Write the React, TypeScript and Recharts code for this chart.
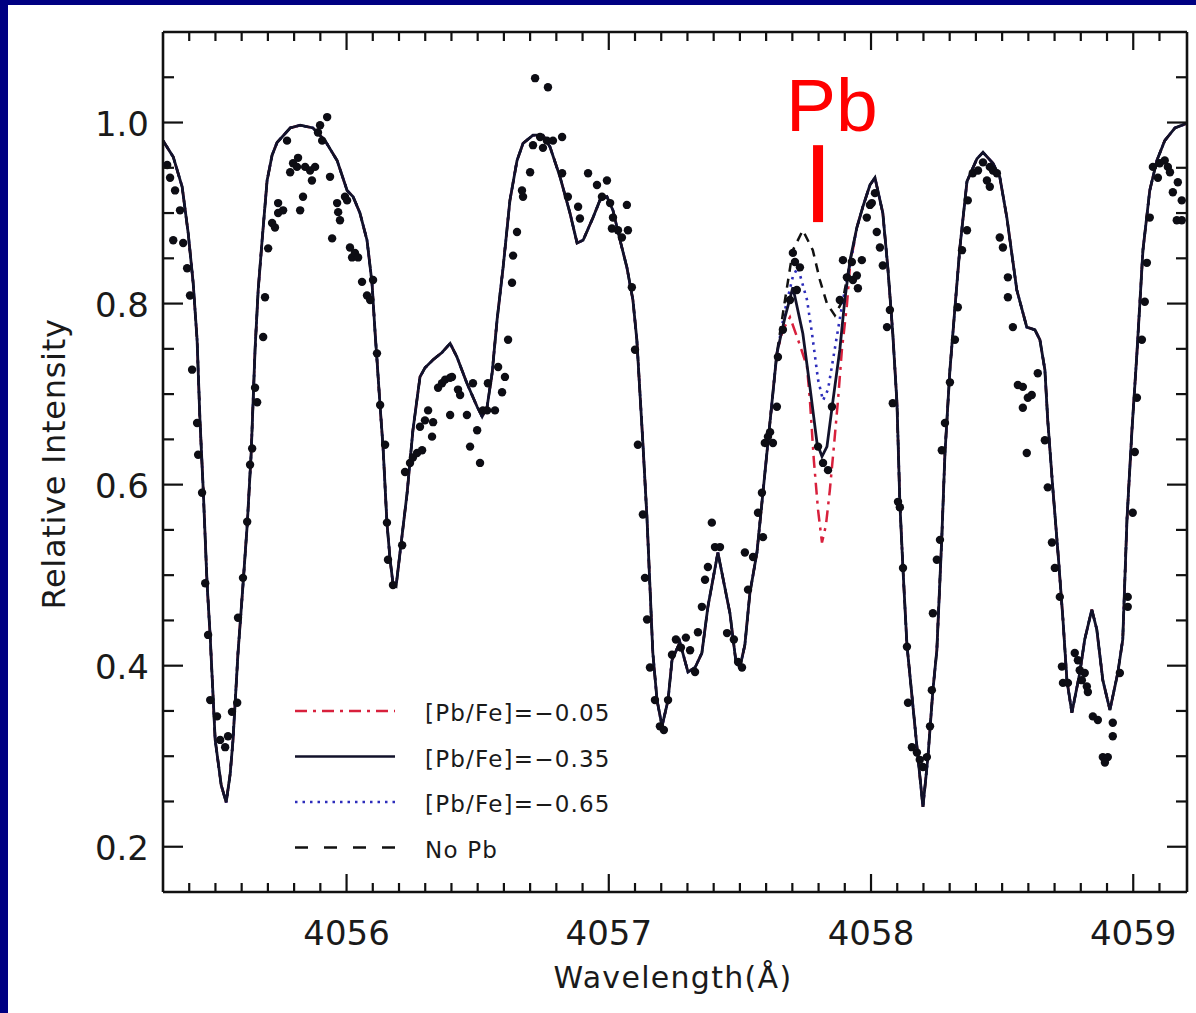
import React from 'react';
import { ComposedChart, Line, Scatter, XAxis, YAxis, ReferenceLine, ReferenceDot } from 'recharts';

type Pt = [number, number];

const X_DOMAIN: [number, number] = [4055.3, 4059.205];
const Y_DOMAIN: [number, number] = [0.15, 1.1];
const X_MAJOR = [4056, 4057, 4058, 4059];
const X_TICKS = [
  4055.4, 4055.5, 4055.6, 4055.7, 4055.8, 4055.9, 4056, 4056.1, 4056.2, 4056.3, 4056.4, 4056.5, 4056.6,
  4056.7, 4056.8, 4056.9, 4057, 4057.1, 4057.2, 4057.3, 4057.4, 4057.5, 4057.6, 4057.7, 4057.8, 4057.9,
  4058, 4058.1, 4058.2, 4058.3, 4058.4, 4058.5, 4058.6, 4058.7, 4058.8, 4058.9, 4059, 4059.1,
];
const Y_MAJOR = [0.2, 0.4, 0.6, 0.8, 1.0];
const Y_TICKS = [0.2, 0.25, 0.3, 0.35, 0.4, 0.45, 0.5, 0.55, 0.6, 0.65, 0.7, 0.75, 0.8, 0.85, 0.9, 0.95, 1.0, 1.05];

// Synthetic spectrum, [Pb/Fe] = -0.35 (solid line), full range
const fitMinus035: Pt[] = [
  [4055.300, 0.980], [4055.339, 0.962], [4055.373, 0.929], [4055.396, 0.878], [4055.415, 0.823], [4055.430, 0.760],
  [4055.441, 0.671], [4055.453, 0.597], [4055.468, 0.491], [4055.480, 0.432], [4055.499, 0.318], [4055.522, 0.268],
  [4055.541, 0.249], [4055.556, 0.280], [4055.567, 0.318], [4055.586, 0.414], [4055.605, 0.489], [4055.621, 0.555],
  [4055.636, 0.633], [4055.651, 0.749], [4055.663, 0.815], [4055.678, 0.870], [4055.697, 0.936], [4055.716, 0.964],
  [4055.735, 0.978], [4055.785, 0.994], [4055.823, 0.997], [4055.872, 0.994], [4055.918, 0.980], [4055.964, 0.958],
  [4056.002, 0.925], [4056.025, 0.918], [4056.051, 0.900], [4056.078, 0.870], [4056.097, 0.823], [4056.109, 0.767],
  [4056.116, 0.738], [4056.128, 0.686], [4056.139, 0.642], [4056.154, 0.558], [4056.166, 0.517], [4056.177, 0.491],
  [4056.189, 0.488], [4056.204, 0.525], [4056.231, 0.591], [4056.253, 0.660], [4056.280, 0.719], [4056.299, 0.729],
  [4056.330, 0.738], [4056.364, 0.746], [4056.395, 0.756], [4056.421, 0.741], [4056.459, 0.712], [4056.498, 0.686],
  [4056.517, 0.675], [4056.536, 0.686], [4056.555, 0.723], [4056.574, 0.782], [4056.597, 0.840], [4056.623, 0.914],
  [4056.650, 0.958], [4056.673, 0.977], [4056.711, 0.986], [4056.749, 0.986], [4056.776, 0.973], [4056.814, 0.940],
  [4056.852, 0.900], [4056.879, 0.867], [4056.902, 0.870], [4056.940, 0.895], [4056.966, 0.914], [4056.993, 0.918],
  [4057.016, 0.903], [4057.043, 0.870], [4057.069, 0.840], [4057.092, 0.804], [4057.107, 0.760], [4057.130, 0.646],
  [4057.146, 0.561], [4057.157, 0.487], [4057.168, 0.414], [4057.184, 0.362], [4057.203, 0.333], [4057.226, 0.362],
  [4057.241, 0.406], [4057.271, 0.426], [4057.302, 0.393], [4057.329, 0.398], [4057.355, 0.414], [4057.378, 0.465],
  [4057.416, 0.525], [4057.462, 0.458], [4057.485, 0.404], [4057.500, 0.398], [4057.519, 0.423], [4057.538, 0.480],
  [4057.565, 0.525], [4057.584, 0.580], [4057.603, 0.635], [4057.622, 0.690], [4057.641, 0.745], [4057.672, 0.785],
  [4057.702, 0.818], [4057.740, 0.767], [4057.767, 0.708], [4057.794, 0.646], [4057.813, 0.631], [4057.832, 0.642],
  [4057.855, 0.693], [4057.881, 0.749], [4057.900, 0.804], [4057.920, 0.848], [4057.946, 0.884], [4057.969, 0.907],
  [4057.996, 0.931], [4058.015, 0.939], [4058.045, 0.900], [4058.064, 0.840], [4058.083, 0.767], [4058.099, 0.690],
  [4058.110, 0.580], [4058.122, 0.506], [4058.137, 0.423], [4058.160, 0.355], [4058.179, 0.299], [4058.198, 0.244],
  [4058.217, 0.299], [4058.236, 0.373], [4058.251, 0.417], [4058.270, 0.542], [4058.282, 0.635], [4058.301, 0.727],
  [4058.320, 0.795], [4058.339, 0.862], [4058.366, 0.935], [4058.404, 0.960], [4058.427, 0.967], [4058.465, 0.955],
  [4058.491, 0.940], [4058.518, 0.895], [4058.556, 0.815], [4058.594, 0.774], [4058.625, 0.771], [4058.644, 0.760],
  [4058.663, 0.727], [4058.674, 0.671], [4058.693, 0.597], [4058.713, 0.525], [4058.732, 0.451], [4058.747, 0.384],
  [4058.766, 0.348], [4058.796, 0.392], [4058.815, 0.429], [4058.842, 0.462], [4058.861, 0.440], [4058.884, 0.384],
  [4058.911, 0.351], [4058.941, 0.392], [4058.960, 0.429], [4058.976, 0.561], [4058.995, 0.660], [4059.014, 0.745],
  [4059.037, 0.859], [4059.063, 0.925], [4059.090, 0.958], [4059.120, 0.980], [4059.159, 0.994], [4059.204, 0.999],
];

// Around the Pb I 4057.8 line the other syntheses differ from the solid one
const PB_RANGE: [number, number] = [4057.641, 4057.946];
const fitMinus005Pb: Pt[] = [
  [4057.664, 0.771], [4057.691, 0.785], [4057.729, 0.754], [4057.756, 0.730], [4057.767, 0.693], [4057.782, 0.627],
  [4057.798, 0.572], [4057.813, 0.536], [4057.828, 0.555], [4057.843, 0.594], [4057.859, 0.644], [4057.874, 0.693],
  [4057.889, 0.749], [4057.908, 0.798], [4057.920, 0.842],
];
const fitMinus065Pb: Pt[] = [
  [4057.672, 0.793], [4057.702, 0.830], [4057.721, 0.840], [4057.756, 0.804], [4057.775, 0.767], [4057.798, 0.716],
  [4057.817, 0.693], [4057.836, 0.705], [4057.855, 0.738], [4057.874, 0.771], [4057.893, 0.804], [4057.912, 0.831],
  [4057.927, 0.853],
];
const fitNoPbPb: Pt[] = [
  [4057.672, 0.804], [4057.702, 0.859], [4057.740, 0.881], [4057.778, 0.859], [4057.805, 0.826], [4057.832, 0.800],
  [4057.862, 0.787], [4057.893, 0.804], [4057.920, 0.846],
];

// Observed spectrum (dots)
const observed: Pt[] = [
  [4055.316, 0.953], [4055.327, 0.939], [4055.346, 0.925], [4055.365, 0.903], [4055.339, 0.870], [4055.377, 0.867],
  [4055.392, 0.839], [4055.403, 0.809], [4055.411, 0.727], [4055.430, 0.668], [4055.434, 0.633], [4055.449, 0.591],
  [4055.461, 0.491], [4055.472, 0.434], [4055.480, 0.362], [4055.506, 0.344], [4055.518, 0.318], [4055.537, 0.310],
  [4055.548, 0.322], [4055.563, 0.349], [4055.583, 0.359], [4055.586, 0.453], [4055.605, 0.497], [4055.621, 0.559],
  [4055.632, 0.622], [4055.640, 0.640], [4055.651, 0.707], [4055.659, 0.691], [4055.682, 0.763], [4055.689, 0.807],
  [4055.701, 0.861], [4055.716, 0.889], [4055.727, 0.884], [4055.739, 0.900], [4055.739, 0.911], [4055.758, 0.903],
  [4055.773, 0.980], [4055.785, 0.945], [4055.796, 0.955], [4055.815, 0.961], [4055.811, 0.951], [4055.823, 0.903],
  [4055.834, 0.918], [4055.842, 0.951], [4055.861, 0.947], [4055.868, 0.936], [4055.880, 0.951], [4055.891, 0.989],
  [4055.899, 0.997], [4055.926, 1.006], [4055.907, 0.980], [4055.937, 0.940], [4055.945, 0.872], [4055.964, 0.911],
  [4055.968, 0.901], [4055.975, 0.892], [4055.994, 0.918], [4056.002, 0.914], [4056.013, 0.862], [4056.021, 0.851],
  [4056.032, 0.856], [4056.044, 0.851], [4056.059, 0.824], [4056.078, 0.809], [4056.090, 0.804], [4056.101, 0.826],
  [4056.116, 0.745], [4056.128, 0.688], [4056.147, 0.644], [4056.154, 0.558], [4056.158, 0.517], [4056.177, 0.489],
  [4056.212, 0.533], [4056.223, 0.614], [4056.242, 0.624], [4056.253, 0.630], [4056.269, 0.635], [4056.288, 0.638],
  [4056.280, 0.664], [4056.299, 0.671], [4056.326, 0.653], [4056.311, 0.682], [4056.330, 0.669], [4056.349, 0.707],
  [4056.364, 0.712], [4056.376, 0.716], [4056.395, 0.718], [4056.402, 0.719], [4056.395, 0.677], [4056.425, 0.705],
  [4056.433, 0.699], [4056.459, 0.677], [4056.471, 0.642], [4056.482, 0.712], [4056.498, 0.660], [4056.509, 0.624],
  [4056.520, 0.682], [4056.536, 0.682], [4056.539, 0.712], [4056.566, 0.682], [4056.578, 0.730], [4056.593, 0.702],
  [4056.604, 0.719], [4056.616, 0.760], [4056.631, 0.823], [4056.635, 0.853], [4056.650, 0.879], [4056.673, 0.918],
  [4056.669, 0.925], [4056.700, 0.945], [4056.711, 0.975], [4056.719, 1.049], [4056.768, 1.039], [4056.738, 0.984],
  [4056.764, 0.980], [4056.787, 0.980], [4056.822, 0.984], [4056.749, 0.972], [4056.822, 0.944], [4056.844, 0.918],
  [4056.883, 0.907], [4056.890, 0.894], [4056.921, 0.944], [4056.955, 0.931], [4056.993, 0.936], [4056.974, 0.918],
  [4057.005, 0.911], [4057.016, 0.895], [4057.012, 0.883], [4057.035, 0.881], [4057.050, 0.873], [4057.069, 0.909],
  [4057.073, 0.881], [4057.088, 0.818], [4057.100, 0.749], [4057.111, 0.644], [4057.130, 0.567], [4057.138, 0.497],
  [4057.146, 0.451], [4057.157, 0.398], [4057.176, 0.362], [4057.195, 0.333], [4057.210, 0.329], [4057.226, 0.362],
  [4057.241, 0.412], [4057.256, 0.429], [4057.275, 0.420], [4057.294, 0.431], [4057.310, 0.417], [4057.329, 0.393],
  [4057.340, 0.437], [4057.355, 0.465], [4057.367, 0.495], [4057.378, 0.509], [4057.393, 0.558], [4057.405, 0.531],
  [4057.424, 0.531], [4057.451, 0.436], [4057.477, 0.429], [4057.493, 0.404], [4057.508, 0.398], [4057.519, 0.525],
  [4057.531, 0.484], [4057.550, 0.520], [4057.569, 0.569], [4057.584, 0.591], [4057.588, 0.542], [4057.595, 0.646],
  [4057.607, 0.653], [4057.615, 0.658], [4057.626, 0.646], [4057.641, 0.686], [4057.645, 0.741], [4057.664, 0.771],
  [4057.691, 0.804], [4057.702, 0.856], [4057.710, 0.846], [4057.729, 0.840], [4057.717, 0.815], [4057.798, 0.642],
  [4057.817, 0.624], [4057.836, 0.616], [4057.851, 0.686], [4057.881, 0.804], [4057.908, 0.829], [4057.893, 0.848],
  [4057.927, 0.846], [4057.931, 0.826], [4057.946, 0.831], [4057.950, 0.817], [4057.965, 0.848], [4057.984, 0.895],
  [4057.996, 0.909], [4058.003, 0.911], [4058.015, 0.922], [4058.022, 0.879], [4058.034, 0.862], [4058.045, 0.842],
  [4058.061, 0.774], [4058.072, 0.793], [4058.083, 0.690], [4058.103, 0.581], [4058.110, 0.575], [4058.122, 0.508],
  [4058.137, 0.421], [4058.141, 0.359], [4058.156, 0.310], [4058.175, 0.304], [4058.186, 0.296], [4058.198, 0.288],
  [4058.213, 0.299], [4058.225, 0.333], [4058.232, 0.373], [4058.236, 0.458], [4058.251, 0.517], [4058.263, 0.539],
  [4058.270, 0.638], [4058.282, 0.668], [4058.301, 0.713], [4058.320, 0.760], [4058.331, 0.796], [4058.347, 0.859],
  [4058.366, 0.881], [4058.369, 0.914], [4058.388, 0.944], [4058.408, 0.947], [4058.427, 0.956], [4058.453, 0.951],
  [4058.465, 0.947], [4058.442, 0.936], [4058.453, 0.929], [4058.480, 0.944], [4058.491, 0.873], [4058.503, 0.862],
  [4058.522, 0.829], [4058.522, 0.807], [4058.541, 0.774], [4058.560, 0.710], [4058.579, 0.708], [4058.579, 0.685],
  [4058.598, 0.696], [4058.613, 0.699], [4058.636, 0.723], [4058.594, 0.635], [4058.663, 0.649], [4058.674, 0.597],
  [4058.690, 0.536], [4058.701, 0.508], [4058.720, 0.476], [4058.728, 0.399], [4058.732, 0.381], [4058.751, 0.381],
  [4058.777, 0.414], [4058.789, 0.406], [4058.796, 0.395], [4058.804, 0.384], [4058.815, 0.392], [4058.823, 0.377],
  [4058.827, 0.371], [4058.846, 0.344], [4058.865, 0.340], [4058.922, 0.337], [4058.922, 0.322], [4058.884, 0.299],
  [4058.903, 0.299], [4058.892, 0.293], [4058.949, 0.392], [4058.979, 0.476], [4058.979, 0.465], [4058.998, 0.569],
  [4059.006, 0.636], [4059.014, 0.696], [4059.033, 0.760], [4059.044, 0.802], [4059.052, 0.845], [4059.063, 0.895],
  [4059.094, 0.939], [4059.075, 0.951], [4059.101, 0.955], [4059.120, 0.958], [4059.132, 0.951], [4059.140, 0.945],
  [4059.151, 0.923], [4059.170, 0.934], [4059.185, 0.914], [4059.185, 0.892], [4059.166, 0.892],
];

const legendLabels = ['[Pb/Fe]=\u22120.05', '[Pb/Fe]=\u22120.35', '[Pb/Fe]=\u22120.65', 'No Pb'];
const pbLabel = 'Pb';
const PB_MARK_X = 4057.798;
const PB_MARK_Y: [number, number] = [0.975, 0.89];
const PB_TEXT_POS: Pt = [4057.851, 0.991];

const toRows = (pts: Pt[]) => pts.map(([x, y]) => ({ x, y }));
const withPbRegion = (pb: Pt[]) =>
  toRows([
    ...fitMinus035.filter(([x]) => x <= PB_RANGE[0]),
    ...pb,
    ...fitMinus035.filter(([x]) => x >= PB_RANGE[1]),
  ]);

const solidRows = toRows(fitMinus035);
const redRows = withPbRegion(fitMinus005Pb);
const blueRows = withPbRegion(fitMinus065Pb);
const noPbRows = withPbRegion(fitNoPbPb);
const obsRows = toRows(observed);

const AX = '#111';
const FONT = "'DejaVu Sans', sans-serif";
const isIn = (arr: number[], v: number) => arr.some((m) => Math.abs(m - v) < 1e-6);

const STYLES = {
  red: { stroke: '#d8203c', dash: '12 6 3 6' },
  solid: { stroke: '#12122a', dash: undefined as string | undefined },
  blue: { stroke: '#2d2dbb', dash: '2.5 5' },
  dashed: { stroke: '#111', dash: '13 16' },
};

const BottomTick = (p: any) => {
  const v = p.payload.value;
  const major = isIn(X_MAJOR, v);
  return (
    <g>
      <line x1={p.x} x2={p.x} y1={p.y} y2={p.y - (major ? 18 : 9)} stroke={AX} strokeWidth={2.2} />
      {major && (
        <text x={p.x} y={p.y + 53} textAnchor="middle" fontFamily={FONT} fontSize={34} fill="#1a1a1a">
          {String(v)}
        </text>
      )}
    </g>
  );
};
const TopTick = (p: any) => {
  const major = isIn(X_MAJOR, p.payload.value);
  return <line x1={p.x} x2={p.x} y1={p.y} y2={p.y + (major ? 18 : 9)} stroke={AX} strokeWidth={2.2} />;
};
const LeftTick = (p: any) => {
  const v = p.payload.value;
  const major = isIn(Y_MAJOR, v);
  return (
    <g>
      <line x1={p.x} x2={p.x + (major ? 20 : 11)} y1={p.y} y2={p.y} stroke={AX} strokeWidth={2.2} />
      {major && (
        <text x={p.x - 14} y={p.y + 13} textAnchor="end" fontFamily={FONT} fontSize={34} fill="#1a1a1a">
          {v.toFixed(1)}
        </text>
      )}
    </g>
  );
};
const RightTick = (p: any) => {
  const major = isIn(Y_MAJOR, p.payload.value);
  return <line x1={p.x} x2={p.x - (major ? 20 : 11)} y1={p.y} y2={p.y} stroke={AX} strokeWidth={2.2} />;
};

const XTitle = (props: any) => {
  const vb = props.viewBox || { x: 163, y: 892, width: 1024, height: 121 };
  return (
    <text x={vb.x + vb.width / 2 - 2} y={vb.y + 96} textAnchor="middle" fontFamily={FONT} fontSize={30}
      letterSpacing={1.3} fill="#1a1a1a">
      Wavelength(Å)
    </text>
  );
};
const YTitle = (props: any) => {
  const vb = props.viewBox || { x: 0, y: 32, width: 163, height: 860 };
  const cx = vb.x + 65;
  const cy = vb.y + vb.height / 2 + 2;
  return (
    <text x={cx} y={cy} transform={`rotate(-90 ${cx} ${cy})`} textAnchor="middle" fontFamily={FONT}
      fontSize={32} letterSpacing={0.7} fill="#1a1a1a">
      Relative Intensity
    </text>
  );
};

const Dot = (p: any) => <circle cx={p.cx} cy={p.cy} r={4.2} fill="#0d0d14" />;

const PbText = (p: any) => (
  <text x={p.cx} y={p.cy} textAnchor="middle" fontFamily="'Liberation Sans', Arial, sans-serif" fontSize={75}
    fill="#ff0000">
    {pbLabel}
  </text>
);

const legendRows = [
  { label: legendLabels[0], ...STYLES.red },
  { label: legendLabels[1], ...STYLES.solid },
  { label: legendLabels[2], ...STYLES.blue },
  { label: legendLabels[3], ...STYLES.dashed },
];

export default function App() {
  return (
    <div style={{ position: 'absolute', left: 0, top: 0, width: 1196, height: 1013, background: '#000082', overflow: 'hidden' }}>
      <div style={{ position: 'absolute', left: 8, top: 5, width: 1188, height: 1008, background: '#ffffff' }} />
      <div style={{ position: 'absolute', left: 0, top: 0 }}>
        <ComposedChart width={1196} height={1013} margin={{ top: 0, right: 0, bottom: 0, left: 0 }}>
          <XAxis xAxisId="b" type="number" dataKey="x" domain={X_DOMAIN} allowDataOverflow ticks={X_TICKS}
            interval={0} tick={BottomTick} tickLine={false} tickSize={0} tickMargin={0} height={121}
            axisLine={{ stroke: AX, strokeWidth: 2.6 }} label={{ content: XTitle }} />
          <XAxis xAxisId="t" orientation="top" type="number" dataKey="x" domain={X_DOMAIN} allowDataOverflow
            ticks={X_TICKS} interval={0} tick={TopTick} tickLine={false} tickSize={0} tickMargin={0} height={32}
            axisLine={{ stroke: AX, strokeWidth: 2.6 }} />
          <YAxis yAxisId="l" type="number" dataKey="y" domain={Y_DOMAIN} allowDataOverflow ticks={Y_TICKS}
            interval={0} tick={LeftTick} tickLine={false} tickSize={0} tickMargin={0} width={163}
            axisLine={{ stroke: AX, strokeWidth: 2.6 }} label={{ content: YTitle }} />
          <YAxis yAxisId="r" orientation="right" type="number" dataKey="y" domain={Y_DOMAIN} allowDataOverflow
            ticks={Y_TICKS} interval={0} tick={RightTick} tickLine={false} tickSize={0} tickMargin={0} width={9}
            axisLine={{ stroke: AX, strokeWidth: 2.6 }} />

          <Line xAxisId="b" yAxisId="l" data={redRows} dataKey="y" type="linear" stroke={STYLES.red.stroke}
            strokeWidth={2.5} strokeDasharray={STYLES.red.dash} dot={false} activeDot={false} isAnimationActive={false} />
          <Line xAxisId="b" yAxisId="l" data={blueRows} dataKey="y" type="linear" stroke={STYLES.blue.stroke}
            strokeWidth={2.6} strokeDasharray={STYLES.blue.dash} dot={false} activeDot={false} isAnimationActive={false} />
          <Line xAxisId="b" yAxisId="l" data={noPbRows} dataKey="y" type="linear" stroke={STYLES.dashed.stroke}
            strokeWidth={2.5} strokeDasharray="9 7" dot={false} activeDot={false} isAnimationActive={false} />
          <Line xAxisId="b" yAxisId="l" data={solidRows} dataKey="y" type="linear" stroke={STYLES.solid.stroke}
            strokeWidth={2.8} dot={false} activeDot={false} isAnimationActive={false} />
          <Scatter xAxisId="b" yAxisId="l" data={obsRows} dataKey="y" shape={Dot} isAnimationActive={false} />

          <ReferenceLine xAxisId="b" yAxisId="l" ifOverflow="visible" stroke="#ff0000" strokeWidth={10}
            segment={[{ x: PB_MARK_X, y: PB_MARK_Y[0] }, { x: PB_MARK_X, y: PB_MARK_Y[1] }]} />
          <ReferenceDot xAxisId="b" yAxisId="l" ifOverflow="visible" x={PB_TEXT_POS[0]} y={PB_TEXT_POS[1]} r={0}
            shape={PbText} />
        </ComposedChart>
      </div>
      <svg width={1196} height={1013} style={{ position: 'absolute', left: 0, top: 0, pointerEvents: 'none' }}>
        {legendRows.map((r, i) => {
          const y = 711 + i * 45.5;
          return (
            <g key={r.label}>
              <line x1={295} x2={395} y1={y} y2={y} stroke={r.stroke} strokeWidth={2.5} strokeDasharray={r.dash} />
              <text x={425} y={y + 10} fontFamily={FONT} fontSize={23} letterSpacing={1.2} fill="#1a1a1a">{r.label}</text>
            </g>
          );
        })}
      </svg>
    </div>
  );
}
